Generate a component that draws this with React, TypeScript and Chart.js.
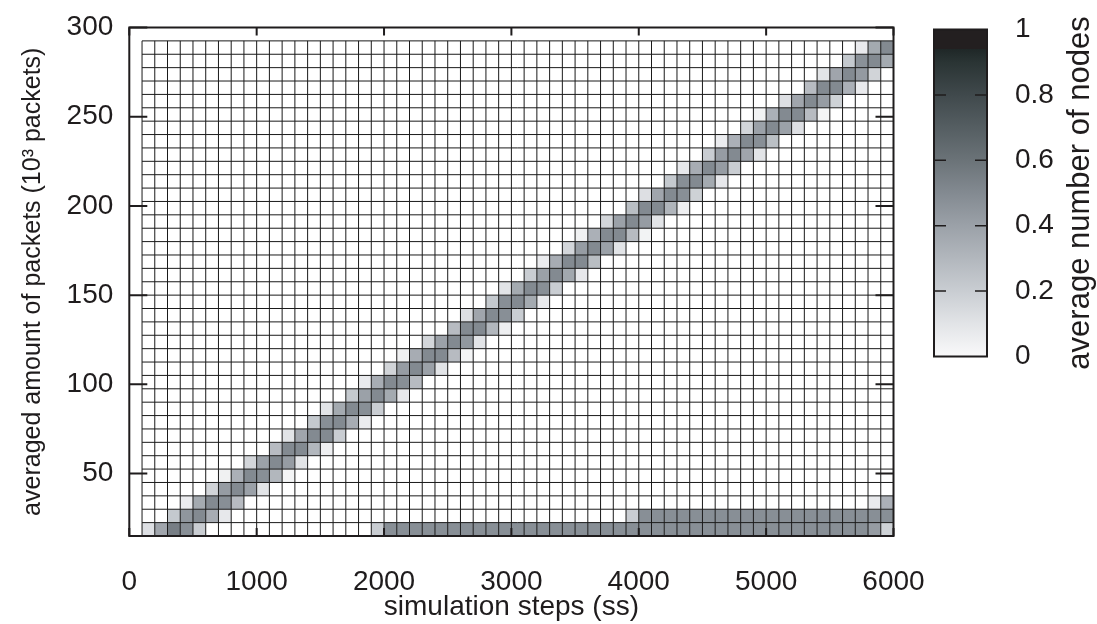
import React, { useEffect, useRef } from 'react';
import { Chart, registerables } from 'chart.js';

Chart.register(...registerables);

// ---------- data ----------
// edges of the simulation-step bins
const stepEdges = [
  100, 200, 300, 400, 500, 600, 700, 800, 900, 1000,
  1100, 1200, 1300, 1400, 1500, 1600, 1700, 1800, 1900, 2000,
  2100, 2200, 2300, 2400, 2500, 2600, 2700, 2800, 2900, 3000,
  3100, 3200, 3300, 3400, 3500, 3600, 3700, 3800, 3900, 4000,
  4100, 4200, 4300, 4400, 4500, 4600, 4700, 4800, 4900, 5000,
  5100, 5200, 5300, 5400, 5500, 5600, 5700, 5800, 5900, 6000,
];
// edges of the packet bins (10^3 packets)
const packetEdges = [
  15, 22.5, 30, 37.5, 45, 52.5, 60, 67.5, 75, 82.5,
  90, 97.5, 105, 112.5, 120, 127.5, 135, 142.5, 150, 157.5,
  165, 172.5, 180, 187.5, 195, 202.5, 210, 217.5, 225, 232.5,
  240, 247.5, 255, 262.5, 270, 277.5, 285, 292.5,
];

const xTickValues = [0, 1000, 2000, 3000, 4000, 5000, 6000];
const yTickValues = [50, 100, 150, 200, 250, 300];
const colorTickValues = [0, 0.2, 0.4, 0.6, 0.8, 1];

// diagonal band: first step bin of each packet row, then the levels along that row
const diagonalStart = [
  100, 300, 400, 600, 700, 900, 1100, 1200, 1400, 1500,
  1700, 1800, 2000, 2100, 2300, 2500, 2600, 2800, 2900, 3100,
  3200, 3400, 3500, 3700, 3900, 4000, 4200, 4300, 4500, 4600,
  4800, 4900, 5100, 5300, 5400, 5600, 5700,
];
const diagonalLevels = [
  [0.12, 0.38, 0.55, 0.48, 0.2],
  [0.22, 0.45, 0.5, 0.35, 0.08],
  [0.06, 0.36, 0.5, 0.48, 0.28],
  [0.17, 0.42, 0.5, 0.4, 0.1],
  [0.04, 0.33, 0.5, 0.48, 0.3, 0.02],
  [0.16, 0.4, 0.5, 0.42, 0.1],
  [0.28, 0.5, 0.5, 0.3, 0.05],
  [0.1, 0.38, 0.5, 0.5, 0.2],
  [0.22, 0.48, 0.5, 0.35, 0.06],
  [0.1, 0.36, 0.5, 0.48, 0.2],
  [0.22, 0.4, 0.5, 0.36, 0.08],
  [0.07, 0.35, 0.5, 0.48, 0.28],
  [0.17, 0.42, 0.5, 0.4, 0.1],
  [0.04, 0.35, 0.5, 0.5, 0.28, 0.02],
  [0.16, 0.4, 0.5, 0.44, 0.1],
  [0.28, 0.5, 0.5, 0.3, 0.05],
  [0.12, 0.38, 0.5, 0.48, 0.2],
  [0.22, 0.48, 0.5, 0.36, 0.07],
  [0.1, 0.36, 0.5, 0.48, 0.2],
  [0.2, 0.4, 0.5, 0.37, 0.08],
  [0.06, 0.35, 0.5, 0.5, 0.27],
  [0.16, 0.42, 0.5, 0.4, 0.1],
  [0.04, 0.33, 0.5, 0.5, 0.28, 0.03],
  [0.16, 0.4, 0.5, 0.42, 0.1],
  [0.27, 0.5, 0.5, 0.31, 0.05],
  [0.12, 0.38, 0.5, 0.48, 0.18],
  [0.22, 0.48, 0.5, 0.36, 0.08],
  [0.08, 0.35, 0.5, 0.42, 0.2],
  [0.2, 0.42, 0.5, 0.38, 0.1],
  [0.06, 0.33, 0.5, 0.48, 0.26],
  [0.16, 0.4, 0.5, 0.4, 0.12],
  [0.03, 0.33, 0.5, 0.5, 0.28, 0.02],
  [0.12, 0.38, 0.5, 0.42, 0.18],
  [0.28, 0.5, 0.5, 0.33, 0.07],
  [0.1, 0.38, 0.5, 0.43, 0.17],
  [0.22, 0.47, 0.5, 0.36],
  [0.07, 0.36, 0.5],
];

// flat band along the lowest packet rows (rows 0, 1, 2)
const floorStart = [1900, 3900, 5800];
const floorLevels = [
  [
    0.2, 0.48, 0.48, 0.48, 0.48, 0.48, 0.48, 0.48, 0.48, 0.48,
    0.48, 0.48, 0.48, 0.48, 0.48, 0.48, 0.48, 0.48, 0.48, 0.48,
    0.48, 0.48, 0.48, 0.48, 0.48, 0.48, 0.48, 0.48, 0.48, 0.48,
    0.48, 0.48, 0.48, 0.48, 0.48, 0.48, 0.48, 0.48, 0.48, 0.42,
    0.18,
  ],
  [
    0.2, 0.48, 0.48, 0.48, 0.48, 0.48, 0.48, 0.48, 0.48, 0.48,
    0.48, 0.48, 0.48, 0.48, 0.48, 0.48, 0.48, 0.48, 0.48, 0.48,
    0.48,
  ],
  [0.07, 0.33],
];

// ---------- style ----------
const FONT = "'Liberation Sans', Arial, Helvetica, sans-serif";
const INK = '#1f1c1d';
const paletteStops: [number, number[]][] = [
  [0, [249, 249, 250]],
  [0.1, [226, 228, 231]],
  [0.2, [201, 205, 210]],
  [0.3, [178, 183, 189]],
  [0.4, [155, 161, 168]],
  [0.5, [131, 138, 145]],
  [0.6, [107, 115, 120]],
  [0.7, [85, 94, 98]],
  [0.8, [64, 73, 76]],
  [0.9, [42, 52, 52]],
  [0.94, [31, 39, 39]],
  [0.9401, [35, 31, 32]],
  [1, [35, 31, 32]],
];

function levelColor(v: number): string {
  for (let i = 1; i < paletteStops.length; i++) {
    const [a, ca] = paletteStops[i - 1];
    const [b, cb] = paletteStops[i];
    if (v <= b) {
      const t = b === a ? 0 : (v - a) / (b - a);
      const c = ca.map((k, j) => Math.round(k + (cb[j] - k) * t));
      return `rgb(${c[0]},${c[1]},${c[2]})`;
    }
  }
  const c = paletteStops[paletteStops.length - 1][1];
  return `rgb(${c[0]},${c[1]},${c[2]})`;
}

function buildGrid(): number[][] {
  const rows = packetEdges.length - 1;
  const cols = stepEdges.length - 1;
  const g: number[][] = [];
  for (let r = 0; r < rows; r++) g.push(new Array(cols).fill(0));
  const place = (r: number, start: number, vals: number[]) => {
    const c0 = stepEdges.indexOf(start);
    vals.forEach((v, k) => {
      if (c0 + k < cols) g[r][c0 + k] = v;
    });
  };
  diagonalStart.forEach((s, r) => place(r, s, diagonalLevels[r]));
  floorStart.forEach((s, r) => place(r, s, floorLevels[r]));
  return g;
}

const heatmapPlugin = {
  id: 'heatmap',
  beforeDatasetsDraw(chart: any) {
    const { ctx } = chart;
    const x = chart.scales.x;
    const y = chart.scales.y;
    const grid = buildGrid();
    ctx.save();
    for (let r = 0; r < grid.length; r++) {
      for (let c = 0; c < grid[r].length; c++) {
        const v = grid[r][c];
        if (v <= 0) continue;
        const x0 = x.getPixelForValue(stepEdges[c]);
        const x1 = x.getPixelForValue(stepEdges[c + 1]);
        const y0 = y.getPixelForValue(packetEdges[r + 1]);
        const y1 = y.getPixelForValue(packetEdges[r]);
        ctx.fillStyle = levelColor(v);
        ctx.fillRect(x0, y0, x1 - x0, y1 - y0);
      }
    }
    const top = y.getPixelForValue(packetEdges[packetEdges.length - 1]);
    const bottom = y.getPixelForValue(packetEdges[0]);
    const left = x.getPixelForValue(stepEdges[0]);
    const right = x.getPixelForValue(stepEdges[stepEdges.length - 1]);
    ctx.strokeStyle = '#1a1a1a';
    ctx.lineWidth = 1;
    ctx.beginPath();
    stepEdges.forEach((s) => {
      const px = x.getPixelForValue(s);
      ctx.moveTo(px, top);
      ctx.lineTo(px, bottom);
    });
    packetEdges.forEach((p) => {
      const py = y.getPixelForValue(p);
      ctx.moveTo(left, py);
      ctx.lineTo(right, py);
    });
    ctx.stroke();
    ctx.restore();
  },
  afterDraw(chart: any) {
    const { ctx, chartArea } = chart;
    const x = chart.scales.x;
    const y = chart.scales.y;
    ctx.save();
    ctx.strokeStyle = INK;
    ctx.lineWidth = 2;
    ctx.strokeRect(chartArea.left, chartArea.top, chartArea.right - chartArea.left, chartArea.bottom - chartArea.top);
    ctx.beginPath();
    xTickValues.forEach((v) => {
      const px = x.getPixelForValue(v);
      ctx.moveTo(px, chartArea.bottom);
      ctx.lineTo(px, chartArea.bottom - 8);
      ctx.moveTo(px, chartArea.top);
      ctx.lineTo(px, chartArea.top + 8);
    });
    yTickValues.forEach((v) => {
      const py = y.getPixelForValue(v);
      ctx.moveTo(chartArea.left, py);
      ctx.lineTo(chartArea.left + 18, py);
      ctx.moveTo(chartArea.right, py);
      ctx.lineTo(chartArea.right - 18, py);
    });
    ctx.stroke();
    ctx.restore();
  },
};

const colorbarPlugin = {
  id: 'colorbar',
  beforeDatasetsDraw(chart: any) {
    const { ctx, chartArea } = chart;
    const y = chart.scales.y;
    const p0 = y.getPixelForValue(0);
    const p1 = y.getPixelForValue(1);
    const grad = ctx.createLinearGradient(0, p0, 0, p1);
    paletteStops.forEach(([v]) => grad.addColorStop(v, levelColor(v)));
    ctx.save();
    ctx.fillStyle = grad;
    ctx.fillRect(chartArea.left, p1, chartArea.right - chartArea.left, p0 - p1);
    ctx.strokeStyle = INK;
    ctx.lineWidth = 2;
    ctx.strokeRect(chartArea.left, p1, chartArea.right - chartArea.left, p0 - p1);
    ctx.lineWidth = 1.5;
    ctx.beginPath();
    colorTickValues.forEach((v) => {
      if (v <= 0 || v >= 1) return;
      const py = y.getPixelForValue(v);
      ctx.moveTo(chartArea.left, py);
      ctx.lineTo(chartArea.left + 12, py);
      ctx.moveTo(chartArea.right, py);
      ctx.lineTo(chartArea.right - 12, py);
    });
    ctx.stroke();
    // axis title of the colour bar, read bottom-to-top
    ctx.translate(chartArea.right + 93, (p0 + p1) / 2);
    ctx.rotate(-Math.PI / 2);
    ctx.fillStyle = INK;
    ctx.font = `31px ${FONT}`;
    ctx.textAlign = 'center';
    ctx.textBaseline = 'middle';
    ctx.fillText('average number of nodes', 0, 0);
    ctx.restore();
  },
};

export default function App() {
  const mainRef = useRef<HTMLCanvasElement | null>(null);
  const barRef = useRef<HTMLCanvasElement | null>(null);

  useEffect(() => {
    if (!mainRef.current || !barRef.current) return;
    const tickFont = { family: FONT, size: 28 };
    const main = new Chart(mainRef.current, {
      type: 'scatter',
      data: { datasets: [] },
      options: {
        animation: false,
        responsive: false,
        maintainAspectRatio: false,
        layout: { padding: { left: 0, top: 27.5, right: 203.5, bottom: 0 } },
        plugins: { legend: { display: false }, tooltip: { enabled: false } },
        scales: {
          x: {
            type: 'linear',
            min: 0,
            max: 6000,
            afterBuildTicks: (s: any) => {
              s.ticks = xTickValues.map((v) => ({ value: v }));
            },
            afterFit: (s: any) => {
              s.height = 88;
              s.paddingLeft = 0;
              s.paddingRight = 0;
            },
            grid: { display: false },
            border: { display: false },
            ticks: {
              font: tickFont,
              color: INK,
              padding: 21,
              maxRotation: 0,
              autoSkip: false,
              callback: (v: any) => String(v),
            },
            title: {
              display: true,
              text: 'simulation steps (ss)',
              font: tickFont,
              color: INK,
              padding: { top: 0, bottom: 0 },
            },
          },
          y: {
            type: 'linear',
            min: 15,
            max: 300,
            afterBuildTicks: (s: any) => {
              s.ticks = yTickValues.map((v) => ({ value: v }));
            },
            afterFit: (s: any) => {
              s.width = 129.3;
              s.paddingTop = 0;
              s.paddingBottom = 0;
            },
            grid: { display: false },
            border: { display: false },
            ticks: {
              font: tickFont,
              color: INK,
              padding: 8,
              autoSkip: false,
              callback: (v: any) => String(v),
            },
            title: {
              display: true,
              text: 'averaged amount of packets (10\u00B3 packets)',
              font: { family: FONT, size: 25 },
              color: INK,
              padding: { top: 18, bottom: 0 },
            },
          },
        },
      },
      plugins: [heatmapPlugin],
    } as any);

    const bar = new Chart(barRef.current, {
      type: 'scatter',
      data: { datasets: [] },
      options: {
        animation: false,
        responsive: false,
        maintainAspectRatio: false,
        layout: { padding: { left: 934, top: 29.5, right: 10, bottom: 267.5 } },
        plugins: { legend: { display: false }, tooltip: { enabled: false } },
        scales: {
          x: { type: 'linear', display: false, min: 0, max: 1 },
          y: {
            type: 'linear',
            position: 'right',
            min: 0,
            max: 1,
            afterBuildTicks: (s: any) => {
              s.ticks = colorTickValues.map((v) => ({ value: v }));
            },
            afterFit: (s: any) => {
              s.width = 100;
              s.paddingTop = 0;
              s.paddingBottom = 0;
            },
            grid: { display: false },
            border: { display: false },
            ticks: {
              font: tickFont,
              color: INK,
              padding: 20,
              autoSkip: false,
              callback: (v: any) => String(v),
            },
          },
        },
      },
      plugins: [colorbarPlugin],
    } as any);

    return () => {
      main.destroy();
      bar.destroy();
    };
  }, []);

  return (
    <div style={{ position: 'fixed', left: 0, top: 0, width: 1097, height: 624, background: '#fff' }}>
      <canvas ref={mainRef} width={1097} height={624} style={{ position: 'absolute', left: 0, top: 0 }} />
      <canvas ref={barRef} width={1097} height={624} style={{ position: 'absolute', left: 0, top: 0 }} />
    </div>
  );
}
